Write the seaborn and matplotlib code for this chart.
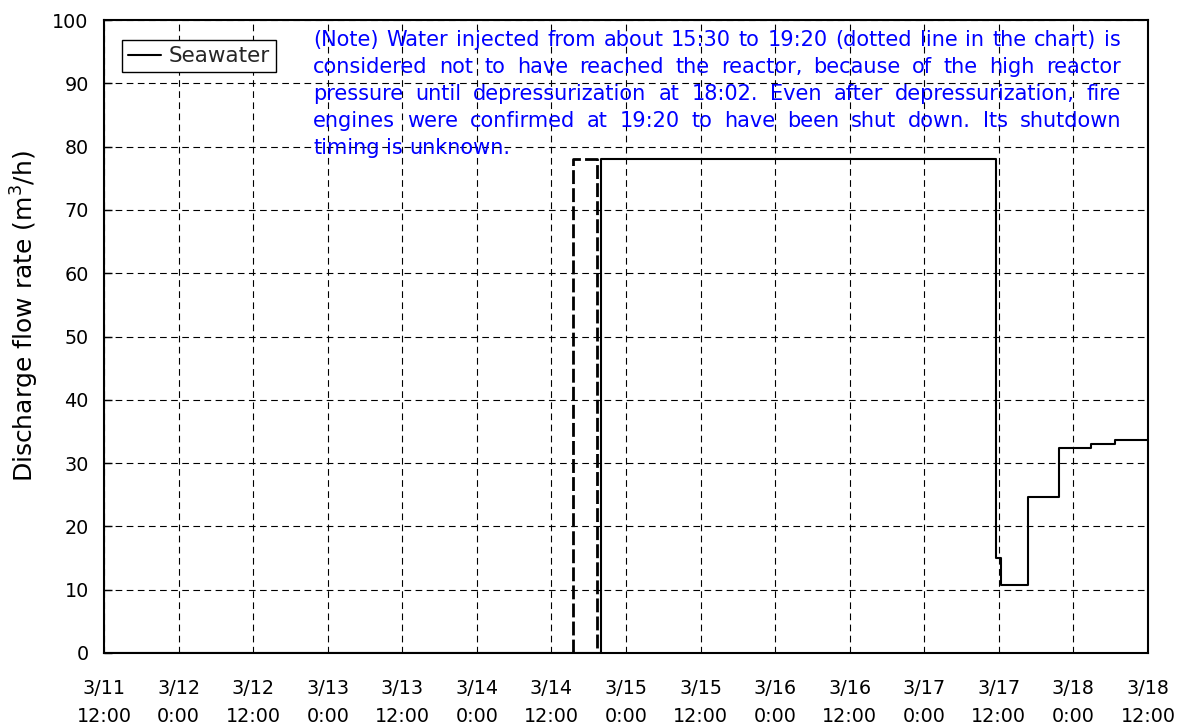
"""
Seawater discharge flow rate, 3/11 12:00 to 3/18 12:00.
"""

import matplotlib

matplotlib.use("Agg")
import matplotlib.pyplot as plt
import pandas as pd
import seaborn as sns


START = pd.Timestamp("2011-03-11 12:00")

# Seawater injection (solid line), step values
seawater_time = [
    "2011-03-11 12:00",
    "2011-03-14 20:00",
    "2011-03-17 11:30",
    "2011-03-17 12:20",
    "2011-03-17 16:40",
    "2011-03-17 21:40",
    "2011-03-18 02:45",
    "2011-03-18 06:40",
    "2011-03-18 12:00",
]
seawater_flow = [0, 78, 15, 10.8, 24.6, 32.4, 33.0, 33.6, 33.6]

# Injection considered not to have reached the reactor (dashed line)
dotted_time = ["2011-03-14 15:30", "2011-03-14 19:20", "2011-03-14 19:20"]
dotted_flow = [0, 78, 0]

tick_labels = [
    "3/11\n12:00", "3/12\n0:00", "3/12\n12:00", "3/13\n0:00", "3/13\n12:00",
    "3/14\n0:00", "3/14\n12:00", "3/15\n0:00", "3/15\n12:00", "3/16\n0:00",
    "3/16\n12:00", "3/17\n0:00", "3/17\n12:00", "3/18\n0:00", "3/18\n12:00",
]

note_lines = [
    "(Note) Water injected from about 15:30 to 19:20 (dotted line in the chart) is",
    "considered not to have reached the reactor, because of the high reactor",
    "pressure until depressurization at 18:02. Even after depressurization, fire",
    "engines were confirmed at 19:20 to have been shut down. Its shutdown",
    "timing is unknown.",
]


def to_hours(times):
    return [(pd.Timestamp(t) - START) / pd.Timedelta(hours=1) for t in times]


def draw_justified(fig, lines, x0, x1, baselines, **kw):
    # Place words one by one so that every line but the last fills x0..x1.
    renderer = fig.canvas.get_renderer()
    W, H = fig.bbox.width, fig.bbox.height
    probe = fig.text(0, 0, "a a", **kw)
    single = fig.text(0, 0, "aa", **kw)
    space = probe.get_window_extent(renderer).width - single.get_window_extent(renderer).width
    probe.remove()
    single.remove()
    for i, (line, yb) in enumerate(zip(lines, baselines)):
        words = line.split(" ")
        objs = [fig.text(0, 1 - yb / H, w, va="baseline", ha="left", **kw) for w in words]
        widths = [o.get_window_extent(renderer).width for o in objs]
        if i == len(lines) - 1 or len(words) == 1:
            gap = space
        else:
            gap = (x1 - x0 - sum(widths)) / (len(words) - 1)
        x = x0
        for o, w in zip(objs, widths):
            o.set_x(x / W)
            x += w + gap


def main() -> None:
    sns.set_theme(style="white")
    plt.rcParams["font.family"] = ["DejaVu Sans"]

    fig = plt.figure(figsize=(11.92, 7.27), dpi=100)
    ax = fig.add_axes([104 / 1192, 1 - 653 / 727, 1044 / 1192, 633 / 727])

    solid = pd.DataFrame({"hours": to_hours(seawater_time), "flow": seawater_flow})
    dotted = pd.DataFrame({"hours": to_hours(dotted_time), "flow": dotted_flow})

    sns.lineplot(data=solid, x="hours", y="flow", ax=ax, color="black",
                 linewidth=1.5, drawstyle="steps-post", estimator=None,
                 sort=False, label="Seawater")
    sns.lineplot(data=dotted, x="hours", y="flow", ax=ax, color="black",
                 linewidth=2.0, linestyle=(0, (5, 1.5)), drawstyle="steps-pre",
                 estimator=None, sort=False)

    ax.set_xlim(0, 168)
    ax.set_ylim(0, 100)
    ax.set_xticks(range(0, 169, 12))
    ax.set_xticklabels(tick_labels, fontsize=13.8, linespacing=1.55)
    ax.set_yticks(range(0, 101, 10))
    ax.tick_params(axis="y", labelsize=13.8, direction="in", length=6, width=1,
                   color="black", left=True, pad=11, labelcolor="black")
    ax.tick_params(axis="x", direction="in", length=0, pad=19, labelcolor="black")
    ax.grid(True, color="black", linestyle=(0, (6, 4)), linewidth=0.8)
    for s in ax.spines.values():
        s.set_color("black")
        s.set_linewidth(1.5)

    ax.set_xlabel("")
    ax.set_ylabel("Discharge flow rate (m$^3$/h)", fontsize=18, color="black")
    ax.yaxis.set_label_coords(-0.06, 0.532)

    leg = ax.legend(loc="upper left", bbox_to_anchor=(0.017, 0.968), fontsize=15.5,
                    fancybox=False, framealpha=1, edgecolor="black",
                    handlelength=1.55, handletextpad=0.35, borderpad=0.28,
                    borderaxespad=0)
    leg.get_frame().set_linewidth(1.0)

    draw_justified(fig, note_lines, 313, 1121, [46, 73, 100, 127, 154],
                   fontsize=15, color="#0000ff")

    fig.savefig("out.png", dpi=100)
    plt.close(fig)


if __name__ == "__main__":
    main()
